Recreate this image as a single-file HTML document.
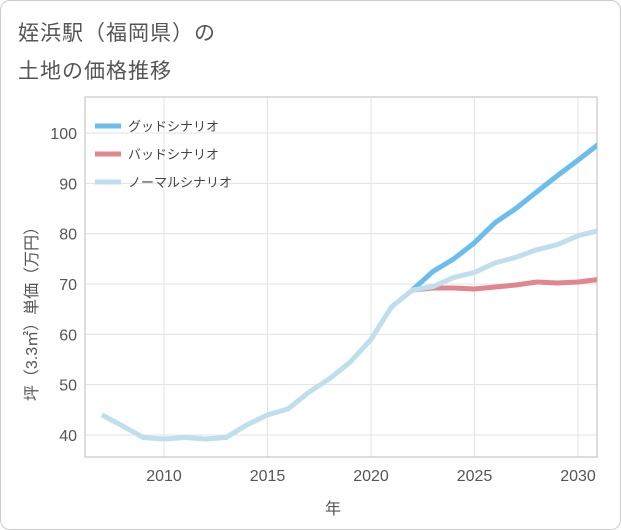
<!DOCTYPE html>
<html><head><meta charset="utf-8"><style>
body{margin:0;background:#fff;}
#wrap{position:relative;width:619px;height:528px;border:1px solid #ccc;border-radius:10px;overflow:hidden;font-family:"Liberation Sans","Noto Sans CJK JP",sans-serif;}
.t{position:absolute;left:17px;font-size:21px;color:#555;letter-spacing:1px;}
</style></head><body>
<div id="wrap">
<div class="t" style="top:16px">姪浜駅（福岡県）の</div>
<div class="t" style="top:54px">土地の価格推移</div>
<svg id="c" width="621" height="530" style="position:absolute;left:-1px;top:-1px"></svg>
</div>
<script>
const years=[2007,2008,2009,2010,2011,2012,2013,2014,2015,2016,2017,2018,2019,2020,2021,2022,2023,2024,2025,2026,2027,2028,2029,2030,2031];
const normal=[44,41.8,39.5,39.2,39.5,39.2,39.5,42,44,45.2,48.5,51.2,54.5,59,65.5,68.8,69.5,71.3,72.3,74.2,75.3,76.8,77.8,79.6,80.6];
const goodYears=[2022,2023,2024,2025,2026,2027,2028,2029,2030,2031];
const good=[68.8,72.5,75,78.2,82.2,85,88.3,91.5,94.6,97.8];
const bad=[68.8,69.2,69.2,69,69.4,69.8,70.4,70.2,70.4,70.9];
const xTicks=[2010,2015,2020,2025,2030];
const yTicks=[40,50,60,70,80,90,100];
const legendLabels=["グッドシナリオ","バッドシナリオ","ノーマルシナリオ"];
const colors=["#6bbdf0","#e0868f","#bfdfec"];
const L=85,R=597,T=97,B=457;
const x=v=>164+(v-2010)*(578-164)/20;
const y=v=>435-(v-40)*(435-133)/60;
const svg=document.getElementById('c');
const NS='http://www.w3.org/2000/svg';
function mk(t,a,txt){const e=document.createElementNS(NS,t);for(const k in a)e.setAttribute(k,a[k]);if(txt!=null)e.textContent=txt;svg.appendChild(e);return e;}
for(const v of yTicks){const g=mk('line',{x1:L,x2:R,y1:y(v),y2:y(v),stroke:'#e3e3e3'});


const t=mk('text',{x:77,y:y(v)+6,'text-anchor':'end','font-size':16,fill:'#555','font-family':'Liberation Sans'},v);

}
for(const v of xTicks){const g=mk('line',{x1:x(v),x2:x(v),y1:T,y2:B,stroke:'#e3e3e3'});


const t=mk('text',{x:x(v),y:481,'text-anchor':'middle','font-size':16,fill:'#555','font-family':'Liberation Sans'},v);

}
const fr=mk('rect',{x:L,y:T,width:R-L,height:B-T,fill:'none',stroke:'#bbb'});


function line(xs,vs,col,name){const p=mk('polyline',{points:xs.map((yy,i)=>x(yy)+','+y(vs[i])).join(' '),fill:'none',stroke:col,'stroke-width':5,'stroke-linejoin':'round','clip-path':'url(#cp)'});

}
const d=mk('defs',{});const cp=document.createElementNS(NS,'clipPath');cp.setAttribute('id','cp');const cr=document.createElementNS(NS,'rect');cr.setAttribute('x',L);cr.setAttribute('y',T);cr.setAttribute('width',R-L);cr.setAttribute('height',B-T);cp.appendChild(cr);d.appendChild(cp);
line(goodYears,good,colors[0],'good-scenario-line');
line(goodYears,bad,colors[1],'bad-scenario-line');
line(years,normal,colors[2],'normal-scenario-line');
legendLabels.forEach((s,i)=>{const ly=126+i*28;
const l=mk('line',{x1:95,x2:121,y1:ly,y2:ly,stroke:colors[i],'stroke-width':5});


const t=mk('text',{x:128,y:ly+5,'font-size':13,fill:'#444','font-family':'Liberation Sans, Noto Sans CJK JP, sans-serif'},s);

});
const xt=mk('text',{x:333,y:514,'text-anchor':'middle','font-size':16,fill:'#555','font-family':'Liberation Sans, Noto Sans CJK JP, sans-serif'},'年');


const yt=mk('text',{x:0,y:0,'text-anchor':'middle','font-size':16,fill:'#555',transform:'translate(37,310) rotate(-90)','font-family':'Liberation Sans, Noto Sans CJK JP, sans-serif'},'坪（3.3㎡）単価（万円）');


</script>
</body></html>
